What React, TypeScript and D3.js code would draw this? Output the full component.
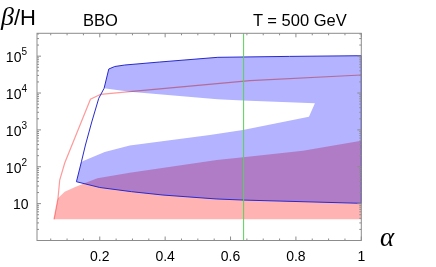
import React from "react";
import * as d3 from "d3";

// alpha ticks and beta/H decades
const alphaTicks = [0.2, 0.4, 0.6, 0.8, 1];
const alphaMinorTicks = [0.05, 0.1, 0.15, 0.25, 0.3, 0.35, 0.45, 0.5, 0.55, 0.65, 0.7, 0.75, 0.85, 0.9, 0.95];
const betaDecades = [1, 2, 3, 4, 5];

// BBO region (blue), outer boundary in pieces: [alpha, beta/H]
const blueLeft: [number, number][] = [
  [0.1286, 39.3], [0.1439, 137], [0.1562, 389], [0.1755, 1640], [0.1969, 7190], [0.2132, 13400], [0.2276, 44800],
];
const blueTop: [number, number][] = [
  [0.2459, 52400], [0.2765, 57500], [0.3836, 69400], [0.5612, 93000], [0.78, 98500], [1, 102800],
];
const blueBottom: [number, number][] = [
  [1, 10.2], [0.6384, 12.5], [0.5557, 13.4], [0.3933, 17.1], [0.2972, 21.1], [0.2, 27.4], [0.1286, 39.3],
];
// white gap inside the blue region
const holeTop: [number, number][] = [
  [0.2132, 13400], [0.2918, 10900], [0.5603, 6760], [0.6378, 6270], [0.8581, 5260],
];
const holeBottom: [number, number][] = [
  [0.8399, 2280], [0.6378, 993], [0.5368, 727], [0.2918, 377], [0.2151, 251], [0.1439, 137],
  [0.1562, 389], [0.1755, 1640], [0.1969, 7190],
];

// red region
const redFloor = 3.76;
const redStart = 0.06;
const redTop: [number, number][] = [
  [0.0722, 13.95], [0.0927, 21.1], [0.1267, 28.8], [0.1929, 48.7], [0.2918, 69], [0.5582, 152],
  [0.639, 181], [0.8215, 273], [1, 509],
];
// thin red boundary line
const redLine: [number, number][] = [
  [0.06, 3.76], [0.0722, 13.95], [0.0775, 43.7], [0.0928, 126.5], [0.1335, 993], [0.1715, 6760],
  [0.2028, 9230], [0.2918, 10860], [0.6592, 21600], [1, 30800],
];

const alphaMark = 0.64;

export default function App() {
  const W = 436, H = 267;
  const x = d3.scaleLinear().domain([0.008, 1]).range([37, 361.3]);
  const y = d3.scaleLog().domain([1, Math.pow(10, 5.62)]).range([240.5, 33.3]);
  const line = d3.line<[number, number]>().x(d => x(d[0])).y(d => y(d[1]));

  const outer = [...blueLeft, ...blueTop, ...blueBottom];
  const hole = [...holeTop, ...holeBottom];
  const bluePath = line(outer)! + "Z" + line(hole)! + "Z";

  const redPoly: [number, number][] = [[redStart, redFloor], ...redTop, [1, redFloor]];
  const redPath = line(redPoly)! + "Z";

  const [x0, x1] = x.range();
  const [yb, yt] = y.range();
  const frame = "#8c8c8c";

  const minorY: number[] = [];
  for (let e = 0; e < 6; e++) {
    for (let k = 2; k <= 9; k++) {
      const v = k * Math.pow(10, e);
      if (v < y.domain()[1]) minorY.push(v);
    }
  }

  return (
    <svg width={W} height={H} style={{ position: "absolute", left: 0, top: 0, background: "#fff" }}>
      <defs>
        <clipPath id="blueClip">
          <path d={bluePath} clipRule="evenodd" />
        </clipPath>
      </defs>
      <path d={redPath} fill="#ffb3b3" />
      <path d={bluePath} fill="#b3b3ff" fillRule="evenodd" />
      <path d={redPath} fill="#b07cc6" clipPath="url(#blueClip)" />
      <path d={line(redLine)!} fill="none" stroke="#ff9a9a" strokeWidth={1.2} style={{ mixBlendMode: "multiply" }} />
      <path d={line(outer)! + "Z"} fill="none" stroke="#2a2acc" strokeWidth={1} />
      <line x1={x(alphaMark)} x2={x(alphaMark)} y1={yt} y2={yb} stroke="#55d455" strokeWidth={1} />

      <rect x={x0} y={yt} width={x1 - x0} height={yb - yt} fill="none" stroke={frame} strokeWidth={1} />
      {alphaTicks.map(t => (
        <g key={"xt" + t}>
          <line x1={x(t)} x2={x(t)} y1={yb} y2={yb - 4} stroke={frame} />
          <line x1={x(t)} x2={x(t)} y1={yt} y2={yt + 4} stroke={frame} />
          <text x={x(t)} y={261} fontSize={14} fontFamily="Liberation Sans, Arial" textAnchor="middle">
            {t === 1 ? "1" : t.toFixed(1)}
          </text>
        </g>
      ))}
      {alphaMinorTicks.map(t => (
        <g key={"xm" + t}>
          <line x1={x(t)} x2={x(t)} y1={yb} y2={yb - 2} stroke={frame} />
          <line x1={x(t)} x2={x(t)} y1={yt} y2={yt + 2} stroke={frame} />
        </g>
      ))}
      {betaDecades.map(e => (
        <g key={"yt" + e}>
          <line x1={x0} x2={x0 + 4} y1={y(Math.pow(10, e))} y2={y(Math.pow(10, e))} stroke={frame} />
          <line x1={x1} x2={x1 - 4} y1={y(Math.pow(10, e))} y2={y(Math.pow(10, e))} stroke={frame} />
          {e === 1 ? (
            <text x={28.5} y={y(10) + 5} fontSize={14} fontFamily="Liberation Sans, Arial" textAnchor="end">10</text>
          ) : (
            <text x={27} y={y(Math.pow(10, e)) + 6} fontSize={14} fontFamily="Liberation Sans, Arial" textAnchor="end">
              10<tspan fontSize={10} dy={-7}>{e}</tspan>
            </text>
          )}
        </g>
      ))}
      {minorY.map(v => (
        <g key={"ym" + v}>
          <line x1={x0} x2={x0 + 2} y1={y(v)} y2={y(v)} stroke={frame} />
          <line x1={x1} x2={x1 - 2} y1={y(v)} y2={y(v)} stroke={frame} />
        </g>
      ))}

      <text x={1} y={25} fontSize={22} fontFamily="Liberation Sans, Arial">
        <tspan fontFamily="Liberation Serif" fontStyle="italic" fontSize={26}>β</tspan>/H
      </text>
      <text x={83} y={25.5} fontSize={16.5} fontFamily="Liberation Sans, Arial">BBO</text>
      <text x={253} y={25.5} fontSize={16.5} fontFamily="Liberation Sans, Arial">T = 500 GeV</text>
      <text x={380} y={246} fontSize={27} fontFamily="Liberation Serif" fontStyle="italic">α</text>
    </svg>
  );
}
